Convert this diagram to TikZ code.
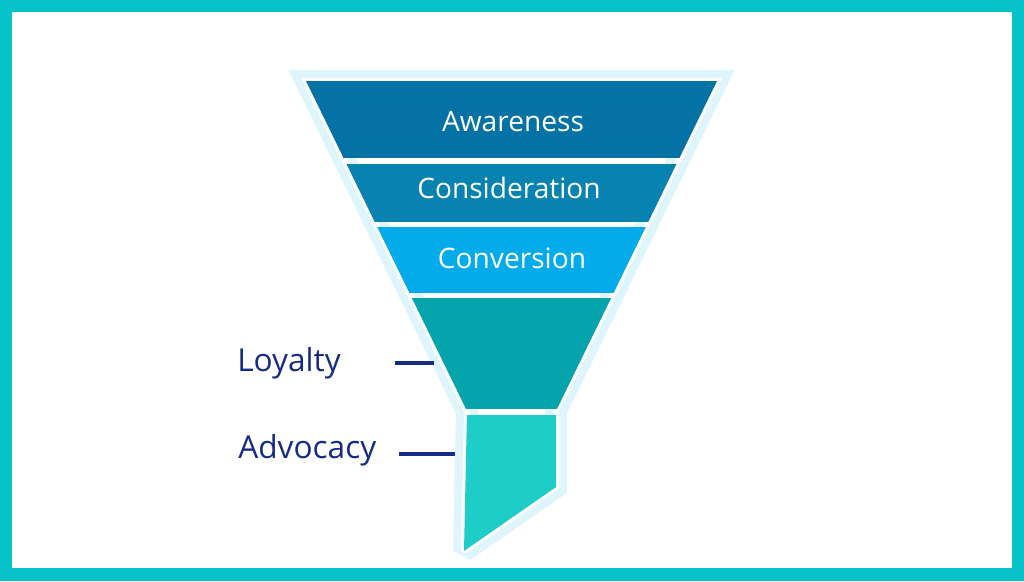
\documentclass[tikz,border=0pt]{standalone}
\usepackage{fontspec}
\setmainfont{Open Sans}
\setsansfont{Open Sans}
\usetikzlibrary{positioning}
\definecolor{FRAME}{HTML}{05C3C8}
\definecolor{RIM}{HTML}{DDF5FB}
\definecolor{AWR}{HTML}{0572A5}
\definecolor{CONS}{HTML}{0782B1}
\definecolor{CONV}{HTML}{04ABEA}
\definecolor{LOY}{HTML}{05A4AD}
\definecolor{ADV}{HTML}{1ECDC8}
\definecolor{NAVY}{HTML}{152B85}

% funnel outline, in pixel units
\def\funnelpath{(306,81) -- (717,81) -- (556,411) -- (556,487) -- (464,551) -- (467,411) -- cycle}

\begin{document}
\begin{tikzpicture}[
  x=0.025cm, y=-0.025cm,
  stage/.style={font=\sffamily\fontsize{20}{24}\selectfont, text=white, anchor=base, inner sep=0pt},
  side/.style={font=\sffamily\fontsize{22.5}{26}\selectfont, text=NAVY, anchor=base west, inner sep=0pt},
  tick/.style={draw=NAVY, line width=2.2pt},
  rim/.style={line join=miter, miter limit=2},
]

% ===== frame =====
\useasboundingbox (0,0) rectangle (1024,581);
\fill[FRAME] (0,0) rectangle (1024,581);
\fill[white] (12,12) rectangle (1012,568);

% ===== funnel =====
\draw[rim, RIM, line width=15.6pt] \funnelpath;
\draw[rim, white, line width=4.3pt] \funnelpath;
\begin{scope}
  \clip \funnelpath;
  \foreach \c/\t/\b in {AWR/60/158, CONS/164/222, CONV/227/293, LOY/298/409, ADV/415/560} {
    \fill[\c] (280,\t) rectangle (750,\b);
  }
\end{scope}

\node[stage] (awareness) at (513,131) {Awareness};
\node[stage] (consideration) at (509,198) {Consideration};
\node[stage] (conversion) at (512,268) {Conversion};

% ===== side labels =====
\node[side] (loyalty) at (237,371) {Loyalty};
\node[side] (advocacy) at (238,458) {Advocacy};
\coordinate (loyA) at (395,363);
\coordinate (loyB) at (434,363);
\coordinate (advA) at (399,454);
\coordinate (advB) at (455,454);
\draw[tick] (loyA) -- (loyB);
\draw[tick] (advA) -- (advB);

\end{tikzpicture}
\end{document}
